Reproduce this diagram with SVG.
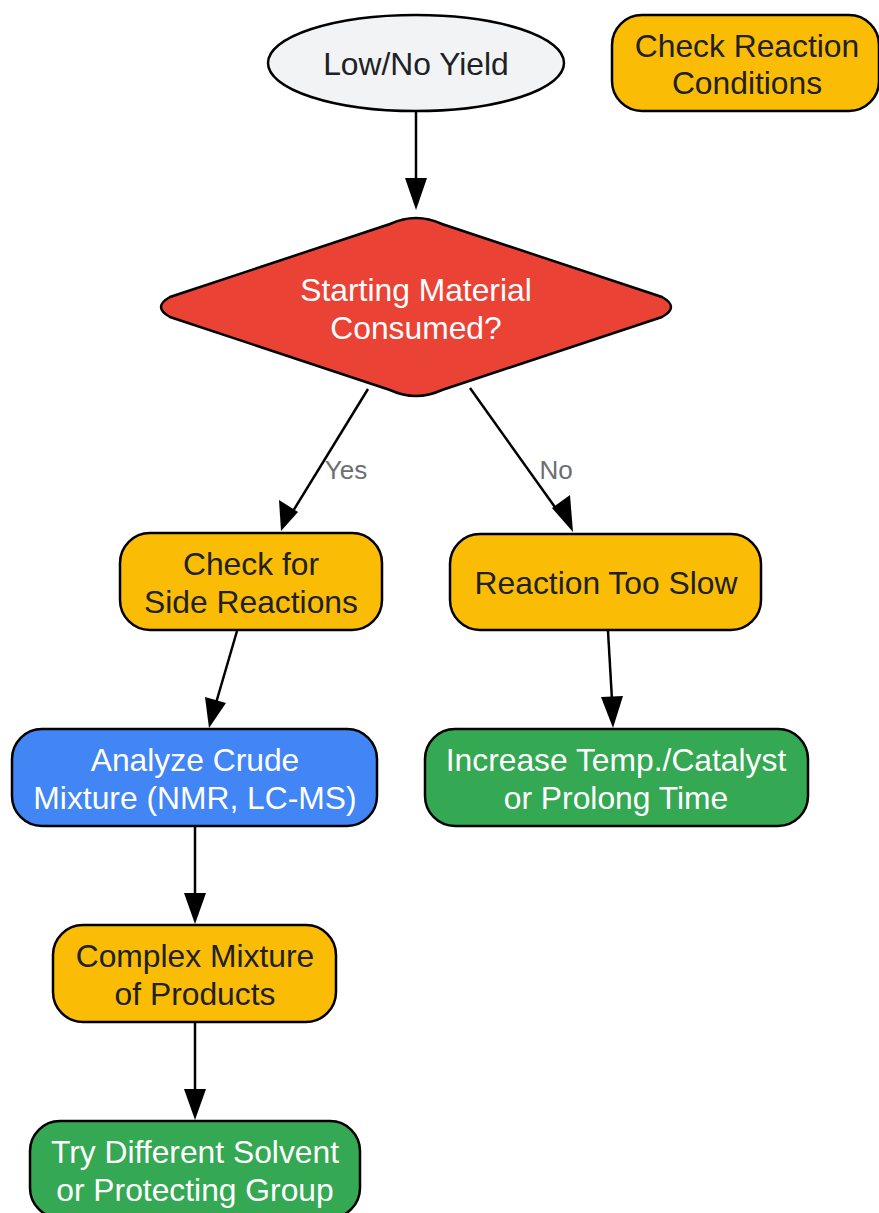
<svg xmlns="http://www.w3.org/2000/svg" width="879" height="1213" viewBox="0 0 879 1213">
<style>
text{font-family:"Liberation Sans",Arial,sans-serif;font-size:31.8px;text-anchor:middle}
.dk{fill:#202124}.wt{fill:#ffffff}
.nd{stroke:#000;stroke-width:2.5}
.y{fill:#fbbc05}.g{fill:#34a853}.b{fill:#4285f4}
.lbl{font-size:26px;fill:#6b6e73}
.ln{stroke:#000;stroke-width:2.5;fill:none}
</style>
<rect width="879" height="1213" fill="#fff"/>
<g id="edges">
<line class="ln" x1="416" y1="111" x2="416" y2="182"/>
<path d="M405,178 L427,178 L416,210 z"/>
<line class="ln" x1="368" y1="389" x2="290" y2="516"/>
<path d="M281,531 L279,500 L298,512 z"/>
<line class="ln" x1="470" y1="388" x2="562" y2="517"/>
<path d="M573,532 L552,508 L570,495 z"/>
<line class="ln" x1="237" y1="631" x2="216" y2="703"/>
<path d="M209,728 L205,697 L226,703 z"/>
<line class="ln" x1="608" y1="631" x2="612" y2="700"/>
<path d="M613,728 L601,697 L623,696 z"/>
<line class="ln" x1="195" y1="827" x2="195" y2="895"/>
<path d="M184,893 L206,893 L195,924 z"/>
<line class="ln" x1="195" y1="1023" x2="195" y2="1091"/>
<path d="M184,1089 L206,1089 L195,1120 z"/>
<text class="lbl" x="346" y="479">Yes</text>
<text class="lbl" x="556" y="479">No</text>
</g>
<g id="start">
<ellipse class="nd" cx="416" cy="63" rx="148" ry="48" fill="#f1f3f4"/>
<text class="dk" x="416" y="75">Low/No Yield</text>
</g>
<g id="checkConditions">
<rect class="nd y" x="612" y="15" width="267" height="96" rx="30"/>
<text class="dk" x="747" y="57">Check Reaction</text>
<text class="dk" x="747" y="94">Conditions</text>
</g>
<g id="decision">
<path class="nd" fill="#ea4335" d="M390,224 Q416,212 442,224 L662,297 Q680,307 662,317 L442,390 Q416,402 390,390 L170,317 Q152,307 170,297 Z"/>
<text class="wt" x="416" y="301">Starting Material</text>
<text class="wt" x="416" y="339">Consumed?</text>
</g>
<g id="sideReactions">
<rect class="nd y" x="120" y="533" width="262" height="97" rx="30"/>
<text class="dk" x="251" y="575">Check for</text>
<text class="dk" x="251" y="613">Side Reactions</text>
</g>
<g id="tooSlow">
<rect class="nd y" x="450" y="534" width="311" height="96" rx="30"/>
<text class="dk" x="606" y="594">Reaction Too Slow</text>
</g>
<g id="analyze">
<rect class="nd b" x="12" y="729" width="365" height="97" rx="30"/>
<text class="wt" x="195" y="771">Analyze Crude</text>
<text class="wt" x="195" y="809">Mixture (NMR, LC-MS)</text>
</g>
<g id="increase">
<rect class="nd g" x="425" y="729" width="383" height="97" rx="30"/>
<text class="wt" x="616" y="771">Increase Temp./Catalyst</text>
<text class="wt" x="616" y="809">or Prolong Time</text>
</g>
<g id="complex">
<rect class="nd y" x="53" y="925" width="283" height="97" rx="30"/>
<text class="dk" x="195" y="967">Complex Mixture</text>
<text class="dk" x="195" y="1005">of Products</text>
</g>
<g id="tryDifferent">
<rect class="nd g" x="30" y="1121" width="330" height="97" rx="30"/>
<text class="wt" x="195" y="1163">Try Different Solvent</text>
<text class="wt" x="195" y="1201">or Protecting Group</text>
</g>
</svg>
